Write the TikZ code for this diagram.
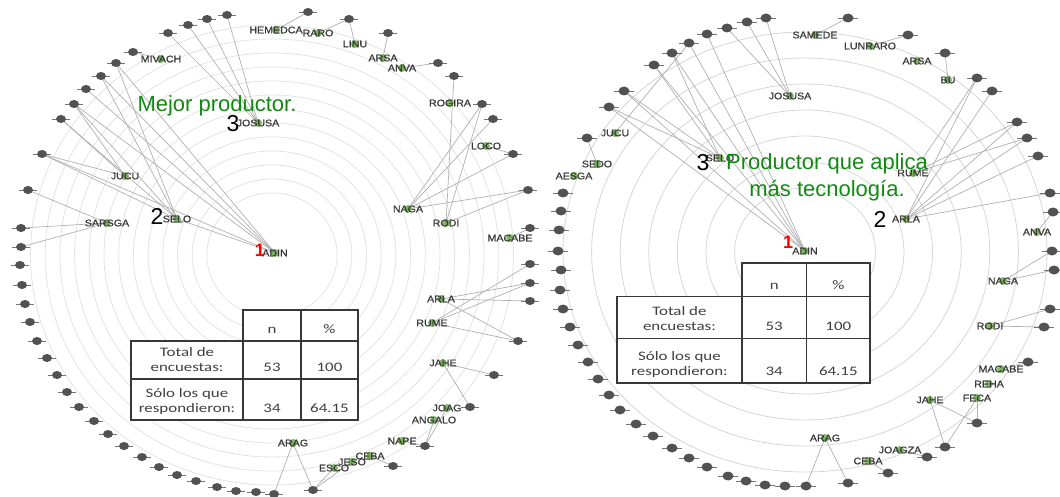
\documentclass[tikz,border=0pt]{standalone}
\usepackage{fontspec}
\setmainfont{Liberation Sans}
\newfontfamily\tagfont[FakeStretch=1.12, FakeBold=0.8]{Liberation Sans}
\newfontfamily\cellfont[FakeStretch=1.3]{Carlito}
\usetikzlibrary{shapes.geometric}
\pgfdeclarelayer{bg}
\pgfsetlayers{bg,main}
\definecolor{leaf}{RGB}{86,160,50}
\definecolor{title}{RGB}{18,138,18}
\definecolor{dot}{RGB}{82,82,82}

\begin{document}
\begin{tikzpicture}[x=1pt, y=-1pt,
	peer/.style={ellipse, fill=dot, inner sep=0, minimum width=10, minimum height=8},
	tick/.style={draw=dot!80, line width=0.8},
	farm/.style={circle, fill=leaf, fill opacity=0.75, inner sep=0, minimum size=8, label={[tag]center:#1}},
	tag/.style={text=black!78, fill opacity=1, text opacity=1, font=\tagfont\fontsize{9.5}{10}\selectfont, inner sep=0},
	link/.style={draw=gray!62, line width=0.7},
	ring/.style={draw=gray!22, line width=0.8},
	grid/.style={draw=black!78, line width=1.3},
	cell/.style={anchor=south, inner sep=2, text depth=3, align=center, text=black!75, font=\cellfont\fontsize{13}{15}\selectfont},
	headline/.style={text=title, inner sep=0, align=center, font=\fontsize{22}{27}\selectfont},
	rank/.style={inner sep=0, font=\fontsize{23}{23}\selectfont},
	first/.style={inner sep=0, text=red, font=\bfseries\fontsize{18}{18}\selectfont}]

	\useasboundingbox (0,0) rectangle (1060,497);

	\foreach \x/\y [count=\i] in {308/12, 227/15, 207/19, 188/25, 168/33, 133/52, 116/63, 101/76, 86/89, 74/104,
		61/119, 42/154, 28/190, 21/228, 21/247, 20/265, 22/285, 25/304, 30/322, 37/341,
		47/358, 57/375, 67/392, 79/407, 94/421, 108/434, 124/446, 142/457, 159/467, 177/475,
		196/481, 217/487, 236/491, 256/492, 274/494, 313/490, 393/466, 425/446, 470/407, 494/375,
		518/341, 530/301, 530/283, 530/264, 530/228, 528/190, 513/154, 493/119, 482/104, 454/76,
		438/63, 388/33, 349/19}
		\node[peer] (a\i) at (\x,\y) {};

	\foreach \x/\y [count=\i] in {848/18, 766/18, 747/22, 727/28, 707/34, 689/43, 672/53, 654/65, 624/91, 609/107,
		587/138, 563/193, 561/211, 559/230, 558/251, 561/270, 560/290, 563/309, 570/327, 578/345,
		588/362, 598/379, 609/395, 620/410, 636/424, 653/436, 672/448, 689/458, 707/467, 728/476,
		746/481, 765/485, 785/486, 806/486, 848/483, 888/473, 927/457, 945/447, 977/423, 1028/362,
		1044/327, 1050/309, 1054/270, 1052/251, 1053/212, 1050/193, 1038/156, 1027/138, 1017/122, 992/91,
		977/78, 945/53, 908/35}
		\node[peer, minimum width=11, minimum height=9] (b\i) at (\x,\y) {};

	\node[farm=HEMEDCA] (lHEMEDCA) at (276,30) {};
	\node[farm=RARO] (lRARO) at (318,33) {};
	\node[farm=LINU] (lLINU) at (355,44) {};
	\node[farm=ARSA] (lARSA) at (383,58) {};
	\node[farm=ANVA] (lANVA) at (402,68) {};
	\node[farm=MIVACH] (lMIVACH) at (161,59) {};
	\node[farm=JOSUSA] (lJOSUSA) at (258,123) {};
	\node[farm=JUCU] (lJUCU) at (125,176) {};
	\node[farm=SELO] (lSELO) at (177,219) {};
	\node[farm=SARSGA] (lSARSGA) at (107,223) {};
	\node[farm=ADIN] (lADIN) at (275,253) {};
	\node[farm=ROGIRA] (lROGIRA) at (450,103) {};
	\node[farm=LOCO] (lLOCO) at (486,146) {};
	\node[farm=NAGA] (lNAGA) at (408,209) {};
	\node[farm=RODI] (lRODI) at (446,223) {};
	\node[farm=MACABE] (lMACABE) at (510,238) {};
	\node[farm=ARLA] (lARLA) at (441,299) {};
	\node[farm=RUME] (lRUME) at (432,323) {};
	\node[farm=JAHE] (lJAHE) at (443,363) {};
	\node[farm=JOAG] (lJOAG) at (447,408) {};
	\node[farm=ANGALO] (lANGALO) at (434,420) {};
	\node[farm=NAPE] (lNAPE) at (402,441) {};
	\node[farm=CEBA] (lCEBA) at (370,456) {};
	\node[farm=JESO] (lJESO) at (352,462) {};
	\node[farm=ESCO] (lESCO) at (334,468) {};
	\node[farm=ARAG] (lARAG) at (293,443) {};

	\node[farm=SAMEDE] (rSAMEDE) at (815,35) {};
	\node[farm=LUNRARO] (rLUNRARO) at (870,46) {};
	\node[farm=ARSA] (rARSA) at (917,61) {};
	\node[farm=BU] (rBU) at (948,80) {};
	\node[farm=JOSUSA] (rJOSUSA) at (790,96) {};
	\node[farm=JUCU] (rJUCU) at (615,133) {};
	\node[farm=SEDO] (rSEDO) at (597,164) {};
	\node[farm=AESGA] (rAESGA) at (574,176) {};
	\node[farm=SELO] (rSELO) at (720,158) {};
	\node[farm=RUME] (rRUME) at (913,173) {};
	\node[farm=ARLA] (rARLA) at (906,219) {};
	\node[farm=ANVA] (rANVA) at (1037,232) {};
	\node[farm=ADIN] (rADIN) at (805,251) {};
	\node[farm=NAGA] (rNAGA) at (1003,281) {};
	\node[farm=RODI] (rRODI) at (990,326) {};
	\node[farm=MACABE] (rMACABE) at (1001,369) {};
	\node[farm=REHA] (rREHA) at (989,384) {};
	\node[farm=FECA] (rFECA) at (977,398) {};
	\node[farm=JAHE] (rJAHE) at (930,400) {};
	\node[farm=JOAGZA] (rJOAGZA) at (900,450) {};
	\node[farm=CEBA] (rCEBA) at (868,461) {};
	\node[farm=ARAG] (rARAG) at (825,438) {};

	\begin{pgfonlayer}{bg}
		\foreach \r in {62,76,...,230}
			\draw[ring] (272,255) ellipse [x radius=1.05*\r, y radius=\r];
		\foreach \r in {64,90,...,220}
			\draw[ring, draw=gray!32] (805,252) ellipse [x radius=1.1*\r, y radius=\r];

		\foreach \s/\t in {lHEMEDCA/a1, lRARO/a53, lLINU/a53, lARSA/a52, lANVA/a51, lMIVACH/a6,
			lJOSUSA/a2, lJOSUSA/a3, lJOSUSA/a4, lJOSUSA/a5,
			lADIN/a7, lADIN/a8, lADIN/a9, lADIN/a10, lADIN/a12, lADIN/lSELO,
			lSELO/a7, lSELO/a8, lSELO/a10, lSELO/a11, lSELO/a12,
			lJUCU/a10, lJUCU/a11, lJUCU/a12,
			lSARSGA/a13, lSARSGA/a14, lSARSGA/a15,
			lRODI/a50, lNAGA/a49, lRODI/a49, lNAGA/a48, lNAGA/a47, lLOCO/a47, lNAGA/a46, lRODI/a46,
			lMACABE/a45, lARLA/a43, lARLA/a42, lARLA/a41, lRUME/a44, lRUME/a43, lRUME/a41,
			lJAHE/a40, lJAHE/a39, lJOAG/a38, lANGALO/a38, lNAPE/a38,
			lCEBA/a37, lJESO/a36, lESCO/a36, lARAG/a35, lARAG/a36}
			\draw[link] (\s.center) -- (\t.center);

		\foreach \s/\t in {rSAMEDE/b1, rLUNRARO/b53, rBU/b52,
			rJOSUSA/b2, rJOSUSA/b3, rJOSUSA/b4,
			rADIN/b5, rADIN/b6, rADIN/b7, rADIN/b8, rADIN/b9, rADIN/b10,
			rSELO/b7, rSELO/b8, rSELO/b9, rSELO/b10, rJUCU/b6, rSEDO/b11,
			rARLA/b51, rARLA/b50, rARLA/b49, rARLA/b48, rARLA/b47, rARLA/b46,
			rRUME/b51, rRUME/b49, rRUME/b48,
			rANVA/b45, rNAGA/b44, rNAGA/b43, rRODI/b42, rRODI/b41, rMACABE/b40,
			rJAHE/b39, rJAHE/b38, rFECA/b39, rFECA/b38,
			rJOAGZA/b37, rCEBA/b36, rARAG/b34, rARAG/b35}
			\draw[link] (\s.center) -- (\t.center);

		\foreach \i in {1,...,53} {
			\draw[tick] ([xshift=-9]a\i.center) -- ([xshift=9]a\i.center);
			\draw[tick] ([xshift=-10]b\i.center) -- ([xshift=10]b\i.center);
		}
	\end{pgfonlayer}

	\foreach \p/\ox/\oy/\sx/\sy in {l/131/310/1/1, r/617/263/1.115/1.09} {
		\begin{scope}[shift={(\ox,\oy)}, xscale=\sx, yscale=\sy]
			\fill[white] (112,0) rectangle (227,31) (0,31) rectangle (227,110);
			\draw[grid] (112,0) rectangle (227,110) (0,31) rectangle (227,110)
				(170,0) -- (170,110) (0,69) -- (227,69);
			\node[cell] (\p n) at (141,29) {n};
			\node[cell] (\p pc) at (198.5,29) {\%};
			\node[cell] (\p total) at (56,67) {Total de\\encuestas:};
			\node[cell] (\p tn) at (141,67) {53};
			\node[cell] (\p tp) at (198.5,67) {100};
			\node[cell] (\p only) at (56,108) {Sólo los que\\respondieron:};
			\node[cell] (\p on) at (141,108) {34};
			\node[cell] (\p op) at (198.5,108) {64.15};
		\end{scope}
	}

	\node[headline] (lhead) at (217,106) {Mejor productor.};
	\node[headline] (rhead) at (827,177) {Productor que aplica\\más tecnología.};

	\node[rank] (lthree) at (233,124) {3};
	\node[rank] (ltwo) at (157,216) {2};
	\node[first] (lone) at (260,250) {1};
	\node[rank] (rthree) at (703,163) {3};
	\node[rank] (rtwo) at (880,219) {2};
	\node[first] (rone) at (788,242) {1};
\end{tikzpicture}
\end{document}
